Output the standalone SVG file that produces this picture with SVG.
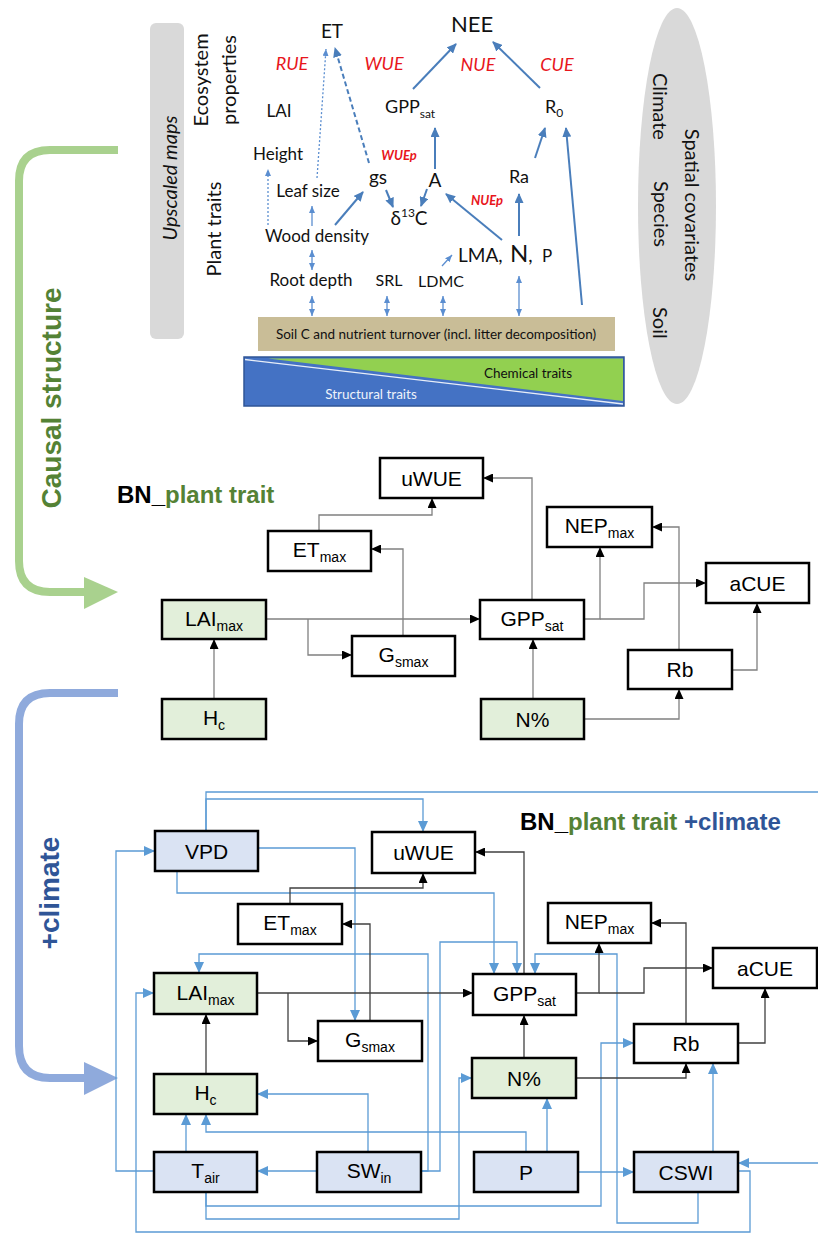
<svg xmlns="http://www.w3.org/2000/svg" width="818" height="1234" viewBox="0 0 818 1234">
<defs>
<style>
.t{font-family:Lato,"Liberation Sans",sans-serif;fill:#111}
.r{font-family:Lato,"Liberation Sans",sans-serif;fill:#e8161c;font-style:italic}
.ta{fill:none;stroke:#4a7ebb;stroke-width:2}
.tt{fill:none;stroke:#5b8ed0;stroke-width:1.3}
.nb{fill:#fff;stroke:#000;stroke-width:2.5}
.ng{fill:#e2efda;stroke:#000;stroke-width:2.5}
.nc{fill:#dae3f3;stroke:#000;stroke-width:2.5}
.nt{font-family:"Liberation Sans",Arial,sans-serif;font-size:21px;text-anchor:middle;fill:#000}
.sub{font-size:14px}
.cg{fill:none;stroke:#808080;stroke-width:1.3;marker-end:url(#ak)}
.ck{fill:none;stroke:#404040;stroke-width:1.3;marker-end:url(#ak)}
.cb{fill:none;stroke:#5b9bd5;stroke-width:1.3;marker-end:url(#ab)}
.bt{font-family:"Liberation Sans",Arial,sans-serif;font-weight:bold}
</style>
<marker id="ak" markerUnits="userSpaceOnUse" markerWidth="10" markerHeight="9" refX="10" refY="4.5" orient="auto"><path d="M0,0 L10,4.5 L0,9 z" fill="#000"/></marker>
<marker id="ab" markerUnits="userSpaceOnUse" markerWidth="11" markerHeight="10" refX="11" refY="5" orient="auto"><path d="M0,0 L11,5 L0,10 z" fill="#5b9bd5"/></marker>
<marker id="tm" markerUnits="userSpaceOnUse" markerWidth="10" markerHeight="9" refX="9" refY="4.5" orient="auto"><path d="M0,0 L10,4.5 L0,9 z" fill="#4a7ebb"/></marker>
<marker id="ts" markerUnits="userSpaceOnUse" markerWidth="7" markerHeight="6" refX="7" refY="3" orient="auto-start-reverse"><path d="M0,0 L7,3 L0,6 z" fill="#5b8ed0"/></marker>
</defs>
<rect width="818" height="1234" fill="#fff"/>

<!-- Top conceptual figure -->
<g id="top-figure">
<rect x="150" y="23" width="34" height="316" rx="6" fill="#d9d9d9"/>
<text class="t" transform="translate(177,178) rotate(-90)" font-size="20" font-style="italic" text-anchor="middle">Upscaled maps</text>
<text class="t" transform="translate(208,80) rotate(-90)" font-size="20" text-anchor="middle">Ecosystem</text>
<text class="t" transform="translate(236,80) rotate(-90)" font-size="20" text-anchor="middle">properties</text>
<text class="t" transform="translate(221,229) rotate(-90)" font-size="20" text-anchor="middle">Plant traits</text>
<ellipse cx="677" cy="206" rx="39" ry="198" fill="#d9d9d9"/>
<text class="t" transform="translate(653,73) rotate(90)" font-size="20">Climate</text>
<text class="t" transform="translate(654,181) rotate(90)" font-size="20">Species</text>
<text class="t" transform="translate(685,205) rotate(90)" font-size="20" text-anchor="middle">Spatial covariates</text>
<text class="t" transform="translate(653,307) rotate(90)" font-size="20">Soil</text>

<text class="t" x="332" y="38" font-size="19" text-anchor="middle">ET</text>
<text class="t" x="472" y="32" font-size="22" text-anchor="middle">NEE</text>
<text class="r" x="292" y="70" font-size="18" text-anchor="middle">RUE</text>
<text class="r" x="384" y="70" font-size="18" text-anchor="middle">WUE</text>
<text class="r" x="478" y="71" font-size="18" text-anchor="middle">NUE</text>
<text class="r" x="557" y="71" font-size="18" text-anchor="middle">CUE</text>
<text class="t" x="279" y="117" font-size="17" text-anchor="middle">LAI</text>
<text class="t" x="385" y="113" font-size="18">GPP<tspan font-size="12" dy="5">sat</tspan></text>
<text class="t" x="545" y="113" font-size="18">R<tspan font-size="12" dy="4">0</tspan></text>
<text class="r" x="399" y="160" font-size="13" font-weight="bold" text-anchor="middle">WUEp</text>
<text class="t" x="278" y="160" font-size="17" text-anchor="middle">Height</text>
<text class="t" x="308" y="197" font-size="17" text-anchor="middle">Leaf size</text>
<text class="t" x="378" y="184" font-size="19" text-anchor="middle">gs</text>
<text class="t" x="435" y="187" font-size="19" text-anchor="middle">A</text>
<text class="t" x="519" y="183" font-size="18" text-anchor="middle">Ra</text>
<text class="t" x="409" y="225" font-size="19" text-anchor="middle">δ<tspan font-size="12" dy="-8">13</tspan><tspan dy="8">C</tspan></text>
<text class="r" x="487" y="205" font-size="13" font-weight="bold" text-anchor="middle">NUEp</text>
<text class="t" x="317" y="242" font-size="17" text-anchor="middle">Wood density</text>
<text class="t" x="458" y="262" font-size="19">LMA,</text>
<text class="t" x="510" y="262" font-size="24">N<tspan font-size="19">,</tspan></text>
<text class="t" x="542" y="262" font-size="17">P</text>
<text class="t" x="311" y="286" font-size="17" text-anchor="middle">Root depth</text>
<text class="t" x="389" y="286" font-size="16" text-anchor="middle">SRL</text>
<text class="t" x="441" y="287" font-size="16" text-anchor="middle">LDMC</text>

<rect x="258" y="317" width="357" height="34" fill="#c9bd97"/>
<text class="t" x="436" y="339" font-size="13.5" text-anchor="middle">Soil C and nutrient turnover (incl. litter decomposition)</text>

<rect x="244" y="357" width="380" height="49" fill="#4472c4" stroke="#2f5597" stroke-width="1.5"/>
<polygon points="268,358.5 623,358.5 623,401" fill="#92d050"/>
<line x1="245" y1="359.5" x2="623" y2="404" stroke="#e8eef8" stroke-width="1.3"/>
<text class="t" x="528" y="378" font-size="13.5" text-anchor="middle">Chemical traits</text>
<text class="t" x="371" y="399" font-size="13.5" text-anchor="middle" style="fill:#eef2fa">Structural traits</text>

<path class="ta" d="M413,89 L456,44" marker-end="url(#tm)"/>
<path class="ta" d="M540,88 L493,42" marker-end="url(#tm)"/>
<path class="ta" d="M435,169 L435,128" marker-end="url(#tm)"/>
<path class="ta" d="M535,158 L545,128" marker-end="url(#tm)"/>
<path class="ta" d="M582,305 L566,128" stroke-width="1.5" marker-end="url(#tm)"/>
<path class="ta" d="M519,236 L519,194" marker-end="url(#tm)"/>
<path class="ta" d="M502,240 L446,194" marker-end="url(#tm)"/>
<path class="ta" d="M335,225 L363,192" marker-end="url(#tm)"/>
<path class="ta" d="M369,163 L335,48" stroke-dasharray="5,3" marker-end="url(#tm)"/>
<path class="ta" d="M386,190 L393,207" marker-end="url(#tm)"/>
<path class="ta" d="M427,189 L421,206" marker-end="url(#tm)"/>
<path class="tt" d="M442,266 L452,255" marker-end="url(#ts)"/>
<path class="tt" d="M312,226 L312,206" marker-end="url(#ts)"/>
<path class="tt" d="M268,225 L268,169" stroke-dasharray="2,2" marker-end="url(#ts)"/>
<path class="tt" d="M317,178 L326,49" stroke-dasharray="2,2" marker-end="url(#ts)"/>
<path class="tt" d="M443,296 V316" marker-start="url(#ts)" marker-end="url(#ts)"/>
<path class="tt" d="M519,276 V316" marker-start="url(#ts)" marker-end="url(#ts)"/>
<path class="tt" d="M387,296 V316" marker-start="url(#ts)" marker-end="url(#ts)"/>
<path class="tt" d="M312,296 V316" marker-start="url(#ts)" marker-end="url(#ts)"/>
<path class="tt" d="M312,250 V270" marker-start="url(#ts)" marker-end="url(#ts)"/>
</g>

<!-- Brackets -->
<g id="brackets">
<path d="M118,150 H50 Q19,150 19,181 V561 Q19,592 50,592 H88" fill="none" stroke="#a9d18e" stroke-width="8"/>
<polygon points="84,577 118,592 84,609" fill="#a9d18e"/>
<text class="bt" transform="translate(61,398) rotate(-90)" font-size="28" fill="#548235" text-anchor="middle">Causal structure</text>
<path d="M118,693 H50 Q19,693 19,724 V1046 Q19,1078 50,1078 H88" fill="none" stroke="#8faadc" stroke-width="8"/>
<polygon points="84,1062 118,1078 84,1095" fill="#8faadc"/>
<text class="bt" transform="translate(59,893) rotate(-90)" font-size="28" fill="#2f5597" text-anchor="middle">+climate</text>
</g>

<!-- BN plant trait -->
<text class="bt" x="117" y="503" font-size="24" fill="#000">BN_<tspan fill="#548235">plant trait</tspan></text>

<g id="bn1-connectors">
<path class="cg" d="M214,699 V639"/>
<path class="cg" d="M266,619 H480"/>
<path class="cg" d="M308,619 V655 H352"/>
<path class="cg" d="M403,636 V549 H371"/>
<path class="cg" d="M319,531 V515 H432 V498"/>
<path class="cg" d="M532,600 V478 H483"/>
<path class="cg" d="M584,619 H600 V547"/>
<path class="cg" d="M600,619 H644 V583 H706"/>
<path class="cg" d="M679,650 V527 H652"/>
<path class="cg" d="M732,670 H757 V603"/>
<path class="cg" d="M533,699 V639"/>
<path class="cg" d="M584,719 H679 V689"/>
</g>

<g id="bn1-uWUE"><rect class="nb" x="380" y="458" width="103" height="40"/><text class="nt" x="431.5" y="485.5">uWUE</text></g>
<g id="bn1-ETmax"><rect class="nb" x="268" y="531" width="103" height="40"/><text class="nt" x="319.5" y="557">ET<tspan class="sub" dy="5">max</tspan></text></g>
<g id="bn1-LAImax"><rect class="ng" x="162" y="600" width="104" height="39"/><text class="nt" x="214" y="625.5">LAI<tspan class="sub" dy="5">max</tspan></text></g>
<g id="bn1-Gsmax"><rect class="nb" x="352" y="636" width="103" height="40"/><text class="nt" x="403.5" y="662">G<tspan class="sub" dy="5">smax</tspan></text></g>
<g id="bn1-Hc"><rect class="ng" x="162" y="699" width="104" height="40"/><text class="nt" x="214" y="725">H<tspan class="sub" dy="5">c</tspan></text></g>
<g id="bn1-GPPsat"><rect class="nb" x="480" y="600" width="104" height="39"/><text class="nt" x="532" y="625.5">GPP<tspan class="sub" dy="5">sat</tspan></text></g>
<g id="bn1-NEPmax"><rect class="nb" x="547" y="507" width="105" height="40"/><text class="nt" x="599.5" y="533">NEP<tspan class="sub" dy="5">max</tspan></text></g>
<g id="bn1-aCUE"><rect class="nb" x="706" y="563" width="103" height="40"/><text class="nt" x="757.5" y="590.5">aCUE</text></g>
<g id="bn1-Rb"><rect class="nb" x="628" y="650" width="104" height="39"/><text class="nt" x="680" y="677">Rb</text></g>
<g id="bn1-N"><rect class="ng" x="481" y="699" width="103" height="40"/><text class="nt" x="532.5" y="726.5">N%</text></g>

<!-- BN plant trait + climate -->
<text class="bt" x="520" y="830" font-size="24" fill="#000">BN_<tspan fill="#548235">plant trait </tspan><tspan fill="#2f5597">+climate</tspan></text>

<g id="bn2-connectors">
<path class="cb" d="M206,831 V799 H423 V832"/>
<path class="cb" d="M206,831 V792 H830 V1163 H738"/>
<path class="cb" d="M258,848 H355 V1021"/>
<path class="cb" d="M177,871 V893 H494 V974"/>
<path class="cb" d="M421,1171 H440 V942 H517 V974"/>
<path class="cb" d="M421,1171 H428 V954 H199 V973"/>
<path class="cb" d="M698,1192 V1223 H617 V954 H535 V974"/>
<path class="cb" d="M206,1192 V1206 H601 V1043 H634"/>
<path class="cb" d="M206,1192 V1219 H459 V1078 H472"/>
<path class="cb" d="M738,1171 H750 V1232 H136 V993 H154"/>
<path class="cb" d="M154,1171 H116 V851 H155"/>
<path class="cb" d="M317,1171 H257"/>
<path class="cb" d="M368,1152 V1094 H257"/>
<path class="cb" d="M186,1152 V1114"/>
<path class="cb" d="M526,1152 V1132 H206 V1114"/>
<path class="cb" d="M547,1152 V1098"/>
<path class="cb" d="M578,1172 H634"/>
<path class="cb" d="M713,1152 V1063"/>
<path class="ck" d="M206,1074 V1014"/>
<path class="ck" d="M257,993 H473"/>
<path class="ck" d="M288,993 V1041 H318"/>
<path class="ck" d="M370,1021 V924 H342"/>
<path class="ck" d="M290,904 V888 H423 V873"/>
<path class="ck" d="M524,974 V852 H475"/>
<path class="ck" d="M576,993 H599 V943"/>
<path class="ck" d="M599,993 H644 V968 H713"/>
<path class="ck" d="M686,1024 V923 H651"/>
<path class="ck" d="M738,1043 H765 V988"/>
<path class="ck" d="M524,1058 V1015"/>
<path class="ck" d="M576,1078 H686 V1063"/>
</g>

<g id="bn2-VPD"><rect class="nc" x="155" y="831" width="103" height="40"/><text class="nt" x="206.5" y="858.5">VPD</text></g>
<g id="bn2-uWUE"><rect class="nb" x="372" y="832" width="103" height="41"/><text class="nt" x="423.5" y="860">uWUE</text></g>
<g id="bn2-ETmax"><rect class="nb" x="238" y="904" width="104" height="40"/><text class="nt" x="290" y="930">ET<tspan class="sub" dy="5">max</tspan></text></g>
<g id="bn2-LAImax"><rect class="ng" x="154" y="973" width="103" height="41"/><text class="nt" x="205.5" y="999.5">LAI<tspan class="sub" dy="5">max</tspan></text></g>
<g id="bn2-Gsmax"><rect class="nb" x="318" y="1021" width="104" height="40"/><text class="nt" x="370" y="1047">G<tspan class="sub" dy="5">smax</tspan></text></g>
<g id="bn2-Hc"><rect class="ng" x="154" y="1074" width="103" height="40"/><text class="nt" x="205.5" y="1100">H<tspan class="sub" dy="5">c</tspan></text></g>
<g id="bn2-Tair"><rect class="nc" x="154" y="1152" width="103" height="40"/><text class="nt" x="205.5" y="1178">T<tspan class="sub" dy="5">air</tspan></text></g>
<g id="bn2-SWin"><rect class="nc" x="317" y="1152" width="104" height="40"/><text class="nt" x="369" y="1178">SW<tspan class="sub" dy="5">in</tspan></text></g>
<g id="bn2-GPPsat"><rect class="nb" x="473" y="974" width="103" height="41"/><text class="nt" x="524.5" y="1000.5">GPP<tspan class="sub" dy="5">sat</tspan></text></g>
<g id="bn2-NEPmax"><rect class="nb" x="548" y="903" width="103" height="40"/><text class="nt" x="599.5" y="929">NEP<tspan class="sub" dy="5">max</tspan></text></g>
<g id="bn2-aCUE"><rect class="nb" x="713" y="948" width="104" height="40"/><text class="nt" x="765" y="975.5">aCUE</text></g>
<g id="bn2-Rb"><rect class="nb" x="634" y="1024" width="104" height="39"/><text class="nt" x="686" y="1051">Rb</text></g>
<g id="bn2-N"><rect class="ng" x="472" y="1058" width="104" height="40"/><text class="nt" x="524" y="1085.5">N%</text></g>
<g id="bn2-P"><rect class="nc" x="474" y="1152" width="104" height="40"/><text class="nt" x="526" y="1179.5">P</text></g>
<g id="bn2-CSWI"><rect class="nc" x="634" y="1152" width="104" height="40"/><text class="nt" x="686" y="1179.5">CSWI</text></g>
</svg>
